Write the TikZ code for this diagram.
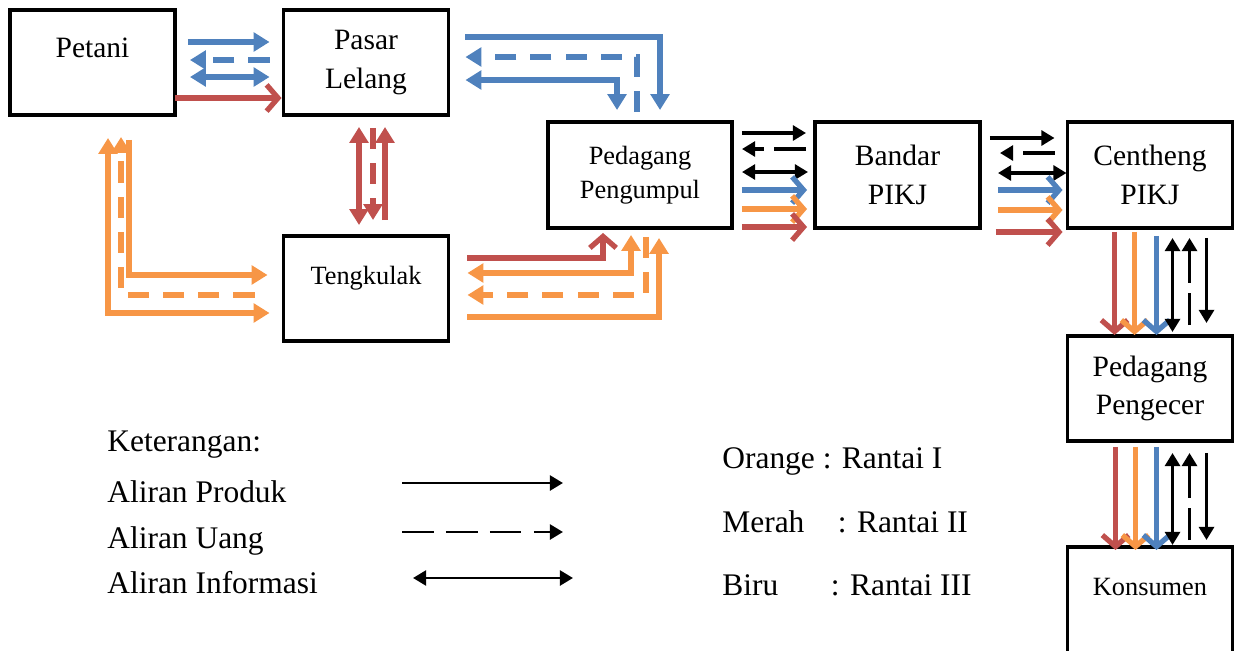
\documentclass[tikz,border=0pt]{standalone}
\usepackage{fontspec}
\setmainfont{Liberation Serif}
\usepackage{tikz}
\usetikzlibrary{positioning}
\usetikzlibrary{arrows.meta}
\definecolor{chainorange}{HTML}{F79646}
\definecolor{chainred}{HTML}{C0504D}
\definecolor{chainblue}{HTML}{4F81BD}
\tikzset {
  % actor boxes
  main/.style = {draw, line width=2.2pt, outer sep=0pt, minimum width=3.3cm,
    minimum height=2.1cm, align=center, font=\fontsize{16.8}{22}\selectfont},
  small/.style = {font=\fontsize{15}{19.5}\selectfont},
  % coloured chains (Rantai I, II, III)
  chain/.style = {line width=3pt, >={Triangle[length=9pt, width=10.5pt]}},
  product/.style = {line width=3pt, >={Straight Barb[length=6.5pt, width=15pt]}},
  % black flows
  flow/.style = {line width=2pt, >={Triangle[length=7.5pt, width=8.5pt]}},
  % money flows are dashed
  money/.style = {dash pattern=on 12pt off 8pt},
  moneyblk/.style = {dash pattern=on 18pt off 6pt on 60pt off 6pt},
  % legend
  legend/.style = {anchor=base west, inner sep=0pt, font=\fontsize{17.9}{20}\selectfont},
  legarrow/.style = {line width=1.7pt, >={Triangle[length=7.5pt, width=8.5pt]}},
}

\begin{document}
\begin{tikzpicture}[x=0.02cm, y=-0.02cm]
  \useasboundingbox (0,0) rectangle (1240,651);

  \node[main, text depth=16.5pt] (petani) at (92.5,62.5) {Petani};
  \node[main] (pasar) at (366,62.5) {Pasar\\Lelang};
  \node[main, small, minimum width=3.68cm, minimum height=2.12cm] (pengumpul) at (640,175) {Pedagang\\Pengumpul};
  \node[main, minimum height=2.12cm] (bandar) at (897.5,175) {Bandar\\PIKJ};
  \node[main, minimum height=2.12cm] (centheng) at (1150,175) {Centheng\\PIKJ};
  \node[main, small, text depth=15pt] (tengkulak) at (366,288.5) {Tengkulak};
  \node[main] (pengecer) at (1150,388.5) {Pedagang\\Pengecer};
  \node[main, small, draw=none, minimum height=2.08cm, text depth=13.7pt] (konsumen) at (1150,599) {Konsumen};
  \draw[line width=2.2pt] (konsumen.south west) -- (konsumen.north west)
    -- (konsumen.north east) -- (konsumen.south east);

  % Petani - Pasar Lelang
  \draw[chain, chainblue, ->] ([shift={(13,32)}]petani.north east) -- ([shift={(-14,32)}]pasar.north west);
  \draw[chain, chainblue, money, ->] ([shift={(-14,50)}]pasar.north west) -- ([shift={(15,50)}]petani.north east);
  \draw[chain, chainblue, <->] ([shift={(15,67)}]petani.north east) -- ([shift={(-14,67)}]pasar.north west);
  \draw[product, chainred, ->] ([shift={(0,88)}]petani.north east) -- ([shift={(-2,88)}]pasar.north west);

  % Pasar Lelang - Pedagang Pengumpul
  \draw[chain, chainblue, ->] ([shift={(17,27)}]pasar.north east) -| ([shift={(112,-12)}]pengumpul.north west);
  \draw[chain, chainblue, money, ->] ([shift={(89,-10)}]pengumpul.north west) |- ([shift={(17,47)}]pasar.north east);
  \draw[chain, chainblue, <->] ([shift={(17,70)}]pasar.north east) -| ([shift={(69,-12)}]pengumpul.north west);

  % Pasar Lelang - Tengkulak
  \draw[chain, chainred, <->] ([shift={(-7,12)}]pasar.south) -- ([shift={(-7,-11)}]tengkulak.north);
  \draw[chain, chainred, money, ->] ([shift={(7,13)}]pasar.south) -- ([shift={(7,-16)}]tengkulak.north);
  \draw[chain, chainred, ->] ([shift={(19,-16)}]tengkulak.north) -- ([shift={(19,12)}]pasar.south);

  % Petani - Tengkulak
  \draw[chain, chainorange, ->] ([shift={(119,25)}]petani.south west) |- ([shift={(-16,-13.5)}]tengkulak.west);
  \draw[chain, chainorange, money, ->] ([shift={(-29,6.5)}]tengkulak.west) -| ([shift={(111,22)}]petani.south west);
  \draw[chain, chainorange, <->] ([shift={(98,23)}]petani.south west) |- ([shift={(-14,24.5)}]tengkulak.west);

  % Tengkulak - Pedagang Pengumpul
  \draw[product, chainred, ->] ([shift={(19,-30.5)}]tengkulak.east) -| ([shift={(55,5)}]pengumpul.south west);
  \draw[chain, chainorange, <->] ([shift={(19,-15.5)}]tengkulak.east) -| ([shift={(83,7)}]pengumpul.south west);
  \draw[chain, chainorange, money, ->] ([shift={(98,9)}]pengumpul.south west) |- ([shift={(19,6.5)}]tengkulak.east);
  \draw[chain, chainorange, ->] ([shift={(19,28.5)}]tengkulak.east) -| ([shift={(111,10)}]pengumpul.south west);

  % Pedagang Pengumpul - Bandar PIKJ
  \draw[flow, ->] ([shift={(10,11)}]pengumpul.north east) -- ([shift={(-9,11)}]bandar.north west);
  \draw[flow, moneyblk, ->] ([shift={(-9,27)}]bandar.north west) -- ([shift={(10,27)}]pengumpul.north east);
  \draw[flow, <->] ([shift={(10,50)}]pengumpul.north east) -- ([shift={(-7,50)}]bandar.north west);
  \draw[product, chainblue, ->] ([shift={(10,68)}]pengumpul.north east) -- ([shift={(-8,68)}]bandar.north west);
  \draw[product, chainorange, ->] ([shift={(10,87)}]pengumpul.north east) -- ([shift={(-8,87)}]bandar.north west);
  \draw[product, chainred, ->] ([shift={(10,105)}]pengumpul.north east) -- ([shift={(-8,105)}]bandar.north west);

  % Bandar PIKJ - Centheng PIKJ
  \draw[flow, ->] ([shift={(10,16)}]bandar.north east) -- ([shift={(-13,16)}]centheng.north west);
  \draw[flow, moneyblk, ->] ([shift={(-13,31)}]centheng.north west) -- ([shift={(20,31)}]bandar.north east);
  \draw[flow, <->] ([shift={(18,51)}]bandar.north east) -- ([shift={(-1,51)}]centheng.north west);
  \draw[product, chainblue, ->] ([shift={(18,68)}]bandar.north east) -- ([shift={(-5,68)}]centheng.north west);
  \draw[product, chainorange, ->] ([shift={(18,88)}]bandar.north east) -- ([shift={(-5,88)}]centheng.north west);
  \draw[product, chainred, ->] ([shift={(16,110)}]bandar.north east) -- ([shift={(-5,110)}]centheng.north west);

  % Centheng PIKJ - Pedagang Pengecer
  \draw[product, chainred, ->] ([shift={(47,4)}]centheng.south west) -- ([shift={(47,-1)}]pengecer.north west);
  \draw[product, chainorange, ->] ([shift={(67,4)}]centheng.south west) -- ([shift={(67,-1)}]pengecer.north west);
  \draw[product, chainblue, ->] ([shift={(89,8)}]centheng.south west) -- ([shift={(89,-1)}]pengecer.north west);
  \draw[flow, <->] ([shift={(105,10)}]centheng.south west) -- ([shift={(105,-4)}]pengecer.north west);
  \draw[flow, moneyblk, ->] ([shift={(122,-11)}]pengecer.north west) -- ([shift={(122,10)}]centheng.south west);
  \draw[flow, ->] ([shift={(139,10)}]centheng.south west) -- ([shift={(139,-13)}]pengecer.north west);

  % Pedagang Pengecer - Konsumen
  \draw[product, chainred, ->] ([shift={(48,6)}]pengecer.south west) -- ([shift={(48,3)}]konsumen.north west);
  \draw[product, chainorange, ->] ([shift={(68,6)}]pengecer.south west) -- ([shift={(68,3)}]konsumen.north west);
  \draw[product, chainblue, ->] ([shift={(89,6)}]pengecer.south west) -- ([shift={(89,3)}]konsumen.north west);
  \draw[flow, <->] ([shift={(105,12)}]pengecer.south west) -- ([shift={(105,-2)}]konsumen.north west);
  \draw[flow, moneyblk, ->] ([shift={(122,-7)}]konsumen.north west) -- ([shift={(122,12)}]pengecer.south west);
  \draw[flow, ->] ([shift={(139,12)}]pengecer.south west) -- ([shift={(139,-7)}]konsumen.north west);

  % legend
  \node[legend] (ket) at (107,452) {Keterangan:};
  \node[legend] (produk) at (107,502) {Aliran Produk};
  \node[legend] (uang) at (107,548) {Aliran Uang};
  \node[legend] (info) at (107,593) {Aliran Informasi};
  \draw[legarrow, ->] ([shift={(295,-19)}]produk.base west) -- ([shift={(456,-19)}]produk.base west);
  \draw[legarrow, dash pattern=on 18pt off 7pt, ->] ([shift={(295,-16)}]uang.base west) -- ([shift={(456,-16)}]uang.base west);
  \draw[legarrow, <->] ([shift={(306,-15)}]info.base west) -- ([shift={(466,-15)}]info.base west);

  \node[legend] (orange) at (722,468) {Orange : Rantai I};
  \node[legend] (merah) at (722,532) {Merah\hspace{19pt}: Rantai II};
  \node[legend] (biru) at (722,595) {Biru\hspace{30pt}: Rantai III};
\end{tikzpicture}
\end{document}
